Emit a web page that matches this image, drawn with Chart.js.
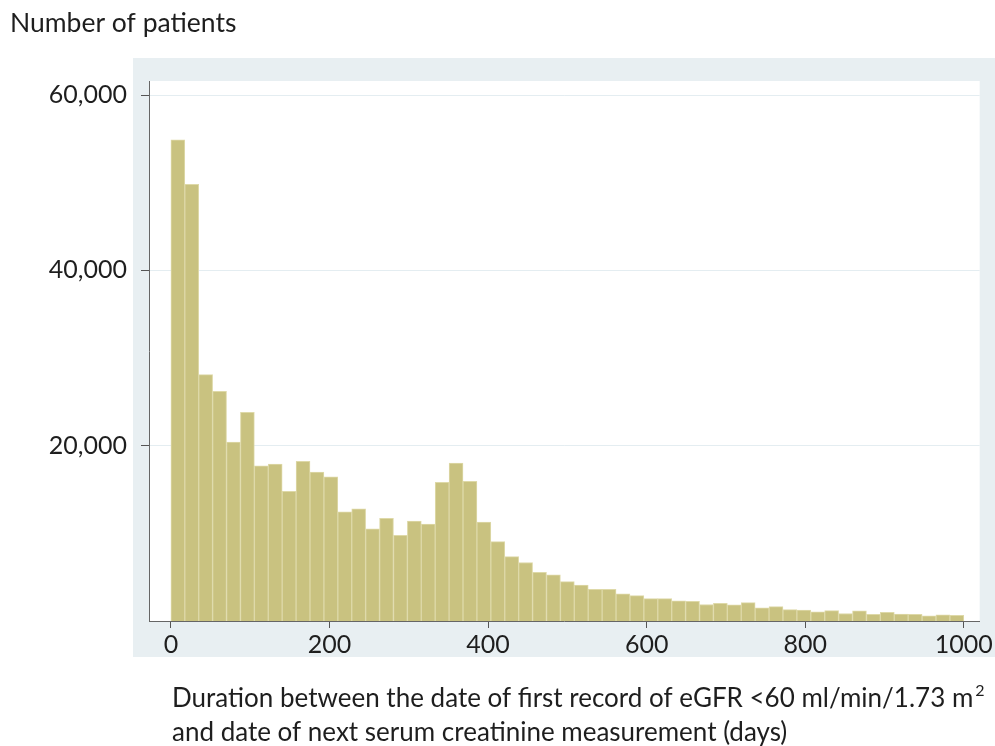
<!DOCTYPE html>
<html>
<head>
<meta charset="utf-8">
<script src="https://cdn.jsdelivr.net/npm/chart.js@4.4.1/dist/chart.umd.min.js"></script>
<style>
  html, body { margin: 0; padding: 0; background: #fff; }
  #wrap { position: relative; width: 995px; height: 746px; }
</style>
</head>
<body>
<div id="wrap"><canvas id="histo" width="995" height="746"></canvas></div>
<script>
// number of patients per bin (57 equal bins between 0 and 1000 days)
const patientCounts = [
  54900, 49800, 28100, 26200, 20400, 23800, 17700, 17900, 14800, 18200,
  17000, 16450, 12450, 12800, 10500, 11700, 9770, 11400, 11070, 15810,
  18020, 15920, 11280, 9060, 7350, 6670, 5560, 5260, 4490, 4110,
  3620, 3620, 3090, 2890, 2550, 2550, 2310, 2250, 1880, 2020,
  1850, 2100, 1490, 1640, 1300, 1250, 1050, 1180, 860, 1150,
  750, 1000, 780, 760, 600, 700, 650
];
const daysMax = 1000;
const xTickValues = [0, 200, 400, 600, 800, 1000];
const yTickValues = [20000, 40000, 60000];
const yTitle = 'Number of patients';
const xTitleLines = ['Duration between the date of first record of eGFR <60 ml/min/1.73 m', 'and date of next serum creatinine measurement (days)'];

const binWidth = daysMax / patientCounts.length;
const histData = patientCounts.map((n, i) => ({ x: (i + 0.5) * binWidth, y: n }));

const FONT = 'Lato, "Open Sans", sans-serif';

// gray panel behind the plot + outer texts
const panelPlugin = {
  id: 'panel',
  beforeDraw(chart) {
    const { ctx, chartArea: a } = chart;
    ctx.save();
    ctx.fillStyle = '#e8eff2';
    ctx.fillRect(133, 58, 995 - 133, 657 - 58);
    ctx.fillStyle = '#ffffff';
    ctx.fillRect(a.left, a.top, a.right - a.left, a.bottom - a.top);
    ctx.restore();
  },
  afterDraw(chart) {
    const ctx = chart.ctx;
    ctx.save();
    ctx.fillStyle = '#1e1e1e';
    ctx.textBaseline = 'alphabetic';
    ctx.textAlign = 'left';
    ctx.font = '26.5px ' + FONT;
    ctx.fillText(yTitle, 10, 32);
    ctx.font = '26px ' + FONT;
    ctx.fillText(xTitleLines[0], 172, 707);
    const w = ctx.measureText(xTitleLines[0]).width;
    ctx.font = '16px ' + FONT;
    ctx.fillText('2', 172 + w + 2, 696);
    ctx.font = '26px ' + FONT;
    ctx.fillText(xTitleLines[1], 172, 741);
    ctx.restore();
  }
};

new Chart(document.getElementById('histo'), {
  type: 'bar',
  data: {
    datasets: [{
      label: 'Patients',
      data: histData,
      backgroundColor: 'rgb(201, 194, 128)',
      borderColor: 'rgb(222, 217, 168)',
      borderWidth: 1,
      categoryPercentage: 1,
      barPercentage: 1
    }]
  },
  options: {
    responsive: false,
    animation: false,
    layout: { padding: { top: 81, right: 10, left: 0, bottom: 0 } },
    plugins: {
      legend: { display: false },
      tooltip: { enabled: false }
    },
    scales: {
      x: {
        type: 'linear',
        offset: false,
        min: -27.6,
        max: 1020,
        afterBuildTicks: scale => { scale.ticks = xTickValues.map(v => ({ value: v })); },
        afterFit: scale => { scale.height = 125; },
        border: { display: true, color: '#666', width: 1 },
        grid: { offset: false, drawOnChartArea: false, drawTicks: true, tickLength: 7, tickColor: '#555' },
        ticks: {
          color: '#1e1e1e',
          padding: 2,
          maxRotation: 0,
          font: { family: FONT, size: 25 },
          callback: v => String(v)
        }
      },
      y: {
        min: 0,
        max: 61600,
        afterBuildTicks: scale => { scale.ticks = yTickValues.map(v => ({ value: v })); },
        afterFit: scale => { scale.width = 149; },
        border: { display: true, color: '#666', width: 1 },
        grid: { color: '#e4edf1', lineWidth: 1, drawTicks: true, tickLength: 8, tickColor: '#555' },
        ticks: {
          color: '#1e1e1e',
          padding: 14,
          font: { family: FONT, size: 25 },
          callback: v => v.toLocaleString('en-US')
        }
      }
    }
  },
  plugins: [panelPlugin]
});
</script>
</body>
</html>
